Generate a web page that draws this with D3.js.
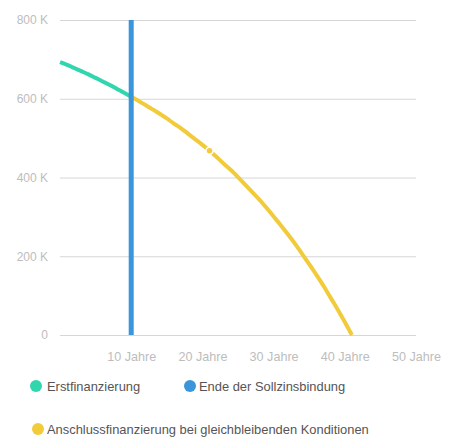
<!DOCTYPE html>
<html>
<head>
<meta charset="utf-8">
<script src="https://cdn.jsdelivr.net/npm/d3@7"></script>
<style>
  html, body { margin: 0; padding: 0; background: #fff; }
  svg { display: block; font-family: "Liberation Sans", Arial, sans-serif; }
</style>
</head>
<body>
<svg id="chart" width="450" height="437"></svg>
<script>
// ---- data ----
const yTicks = [0, 200, 400, 600, 800];          // thousand EUR
const yTickLabels = ["0", "200 K", "400 K", "600 K", "800 K"];
const xTicks = [10, 20, 30, 40, 50];
const xTickLabels = ["10 Jahre", "20 Jahre", "30 Jahre", "40 Jahre", "50 Jahre"];

const erstYears  = [0, 1, 2, 3, 4, 5, 6, 7, 8, 9, 10];
const erstValues = [693, 686, 678, 670, 662, 653, 644, 635, 625, 615, 605];

const anschlYears  = [10, 11, 12, 13, 14, 15, 16, 17, 18, 19, 20, 21, 22, 23, 24, 25, 26, 27, 28, 29, 30, 31, 32, 33, 34, 35, 36, 37, 38, 39, 40, 41];
const anschlValues = [605, 595, 584, 573, 562, 550, 537, 525, 511, 497, 483, 468, 452, 435, 419, 401, 382, 363, 344, 323, 301, 279, 256, 232, 206, 180, 153, 125, 95, 65, 33, 0];

const sollzinsEnde = 10;                 // year
const sollzinsRange = [0, 800];          // vertical extent
const markerYear = 21;
const markerValue = 468;

const legendItems = ["Erstfinanzierung", "Ende der Sollzinsbindung", "Anschlussfinanzierung bei gleichbleibenden Konditionen"];
const colors = ["#2fd6ae", "#3a95da", "#f2cb3a"];

// ---- drawing ----
const svg = d3.select("#chart");
const x = d3.scaleLinear().domain([0, 50]).range([60, 416]);
const y = d3.scaleLinear().domain([0, 800]).range([335, 20]);

// gridlines + y labels
const yAxis = d3.axisLeft(y).tickValues(yTicks)
  .tickSize(-(x.range()[1] - x.range()[0]))
  .tickPadding(12)
  .tickFormat((d, i) => yTickLabels[i]);
const gy = svg.append("g").attr("transform", `translate(${x.range()[0]},0)`).call(yAxis);
gy.select(".domain").remove();
gy.selectAll(".tick line").attr("stroke", "#d6d6d6").attr("stroke-width", 1);
gy.selectAll(".tick text").attr("fill", "#bdbdbd").attr("font-size", 12)
  .attr("font-family", "Liberation Sans, Arial, sans-serif");

// x labels
const xAxis = d3.axisBottom(x).tickValues(xTicks).tickSize(0).tickPadding(17)
  .tickFormat((d, i) => xTickLabels[i]);
const gx = svg.append("g").attr("transform", `translate(0,${y(0)})`).call(xAxis);
gx.select(".domain").remove();
gx.selectAll(".tick text").attr("fill", "#bdbdbd").attr("font-size", 12.6)
  .attr("font-family", "Liberation Sans, Arial, sans-serif");

const line = d3.line().x(d => x(d[0])).y(d => y(d[1])).curve(d3.curveMonotoneX);

// Anschlussfinanzierung
svg.append("path")
  .datum(anschlYears.map((t, i) => [t, anschlValues[i]]))
  .attr("d", line).attr("fill", "none")
  .attr("stroke", colors[2]).attr("stroke-width", 4);

// Erstfinanzierung
svg.append("path")
  .datum(erstYears.map((t, i) => [t, erstValues[i]]))
  .attr("d", line).attr("fill", "none")
  .attr("stroke", colors[0]).attr("stroke-width", 4);

// Ende der Sollzinsbindung
svg.append("line")
  .attr("x1", x(sollzinsEnde)).attr("x2", x(sollzinsEnde))
  .attr("y1", y(sollzinsRange[0])).attr("y2", y(sollzinsRange[1]))
  .attr("stroke", colors[1]).attr("stroke-width", 5);

// marker
svg.append("circle")
  .attr("cx", x(markerYear)).attr("cy", y(markerValue)).attr("r", 3.5)
  .attr("fill", colors[2]).attr("stroke", "#fff").attr("stroke-width", 1.5);

// legend
const legendPos = [[36, 386], [190, 386], [38, 429]];
const lg = svg.append("g");
legendItems.forEach((name, i) => {
  const [cx, cy] = legendPos[i];
  lg.append("circle").attr("cx", cx).attr("cy", cy).attr("r", 6).attr("fill", colors[i]);
  lg.append("text").attr("x", i === 1 ? cx + 9 : 47).attr("y", cy + 5)
    .attr("font-size", 12.9).attr("fill", "#555")
    .text(name);
});
</script>
</body>
</html>
